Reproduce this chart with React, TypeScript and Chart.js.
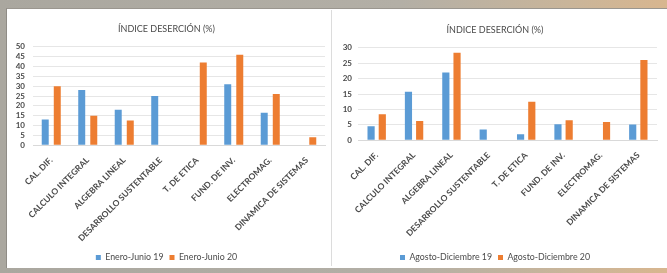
import React, { useEffect, useRef } from "react";
import { Chart, registerables } from "chart.js";

Chart.register(...registerables);

const categories = [
  "CAL. DIF.",
  "CALCULO INTEGRAL",
  "ALGEBRA LINEAL",
  "DESARROLLO SUSTENTABLE",
  "T. DE ETICA",
  "FUND. DE INV.",
  "ELECTROMAG.",
  "DINAMICA DE SISTEMAS",
];
const titleText = "ÍNDICE DESERCIÓN (%)";
const eneJun19 = [13, 28, 18, 25, 0, 31, 16.5, 0];
const eneJun20 = [30, 15, 12.5, 0, 42, 46, 26, 4];
const agoDic19 = [4.5, 15.7, 22, 3.5, 1.9, 5.2, 0, 5.1];
const agoDic20 = [8.4, 6.2, 28.4, 0, 12.5, 6.5, 5.9, 26];
const leftLabels = ["Enero-Junio 19", "Enero-Junio 20"];
const rightLabels = ["Agosto-Diciembre 19", "Agosto-Diciembre 20"];

const BLUE = "#5B9BD5";
const ORANGE = "#ED7D31";
const TEXT = "#4a4a4a";
const FONT = "Lato, 'Open Sans', sans-serif";

type Props = {
  a: number[];
  b: number[];
  labels: string[];
  max: number;
  yWidth: number;
  xHeight: number;
  titleTop: number;
  titleBottom: number;
  yPad: number;
  pad: { left: number; right: number; top: number; bottom: number };
  catPct: number;
  barPct: number;
  left: number;
  width: number;
};

function Panel(p: Props) {
  const ref = useRef<HTMLCanvasElement>(null);
  useEffect(() => {
    if (!ref.current) return;
    const chart = new Chart(ref.current, {
      type: "bar",
      data: {
        labels: categories,
        datasets: [
          { label: p.labels[0], data: p.a, backgroundColor: BLUE, categoryPercentage: p.catPct, barPercentage: p.barPct },
          { label: p.labels[1], data: p.b, backgroundColor: ORANGE, categoryPercentage: p.catPct, barPercentage: p.barPct },
        ],
      },
      options: {
        animation: false,
        responsive: false,
        maintainAspectRatio: false,
        layout: { padding: p.pad },
        plugins: {
          title: {
            display: true,
            text: titleText,
            color: TEXT,
            font: { family: FONT, size: 9, weight: "normal" },
            padding: { top: p.titleTop, bottom: p.titleBottom },
          },
          legend: {
            display: true,
            position: "bottom",
            labels: {
              color: TEXT,
              font: { family: FONT, size: 8.8 },
              boxWidth: 5,
              boxHeight: 5,
              padding: 6,
            },
          },
          tooltip: { enabled: false },
        },
        scales: {
          x: {
            grid: { display: false },
            border: { display: true, color: "#d9d9d9" },
            ticks: {
              color: TEXT,
              font: { family: FONT, size: 8.5, weight: "bold" },
              maxRotation: 45,
              minRotation: 45,
              autoSkip: false,
              padding: 2,
            },
            afterFit: (s: any) => {
              s.height = p.xHeight;
            },
          },
          y: {
            min: 0,
            max: p.max,
            ticks: {
              stepSize: 5,
              autoSkip: false,
              color: TEXT,
              font: { family: FONT, size: 8, weight: "bold" },
              padding: p.yPad,
            },
            grid: { color: "#e6e6e6", drawTicks: false },
            border: { display: false },
            afterFit: (s: any) => {
              s.width = p.yWidth;
            },
          },
        },
      },
    });
    return () => chart.destroy();
  }, []);
  return (
    <canvas
      ref={ref}
      width={p.width}
      height={262}
      style={{ position: "absolute", left: p.left, top: 10, display: "block" }}
    />
  );
}

export default function App() {
  return (
    <div
      style={{
        position: "fixed",
        left: 0,
        top: 0,
        width: 667,
        height: 273,
        overflow: "hidden",
        background: "linear-gradient(90deg, #aaa79f 0%, #b3afa6 60%, #c9b59a 85%, #d8b68f 100%)",
      }}
    >
      <div
        style={{
          position: "absolute",
          left: 6,
          top: 8,
          width: 661,
          height: 260,
          background: "#ffffff",
          borderLeft: "1px solid #8f8c86",
          borderTop: "1px solid #9a968f",
          boxSizing: "border-box",
        }}
      />
      <div style={{ position: "absolute", left: 331, top: 10, width: 1, height: 256, background: "#dcdcdc" }} />
      <Panel
        left={8}
        width={322}
        a={eneJun19}
        b={eneJun20}
        labels={leftLabels}
        max={50}
        yWidth={25}
        yPad={8}
        xHeight={102}
        titleTop={14}
        titleBottom={12}
        pad={{ left: 0, right: 5, top: 0, bottom: 0 }}
        catPct={0.66}
        barPct={0.58}
      />
      <Panel
        left={333}
        width={332}
        a={agoDic19}
        b={agoDic20}
        labels={rightLabels}
        max={30}
        yWidth={25}
        yPad={6}
        xHeight={107}
        titleTop={15}
        titleBottom={12}
        pad={{ left: 0, right: 8, top: 0, bottom: 0 }}
        catPct={0.6}
        barPct={0.64}
      />
    </div>
  );
}
